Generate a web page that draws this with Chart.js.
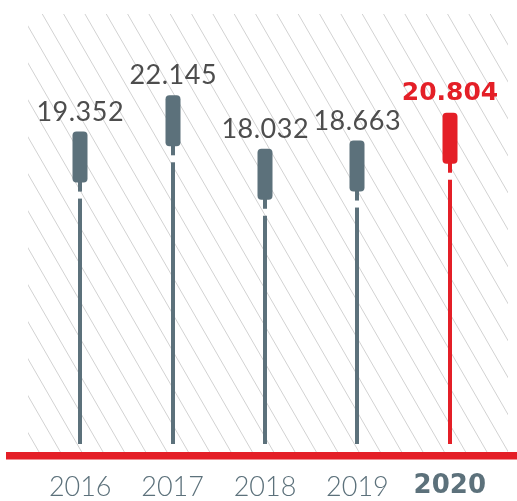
<!DOCTYPE html>
<html>
<head>
<meta charset="utf-8">
<script src="https://cdn.jsdelivr.net/npm/chart.js@4.4.1/dist/chart.umd.min.js"></script>
<style>
  html, body { margin: 0; padding: 0; background: #fff; }
  #wrap { width: 517px; height: 501px; position: relative; }
</style>
</head>
<body>
<div id="wrap"><canvas id="myChart"></canvas></div>
<script>
// data
const years = ['2016', '2017', '2018', '2019', '2020'];
const values = [19.352, 22.145, 18.032, 18.663, 20.804];
const valueLabels = ['19.352', '22.145', '18.032', '18.663', '20.804'];
const highlightIndex = 4;

const GREY = '#5c717b';
const RED = '#e41f27';
const TEXT = '#4d4d4d';
const FONT = 'Lato';
const BOLD_FONT = '"DejaVu Sans"';

// hatch background, red baseline, capsules and value labels
const capsulePlugin = {
    id: 'capsules',
    beforeDatasetsDraw(chart) {
        const ctx = chart.ctx;
        const a = chart.chartArea;
        ctx.save();
        ctx.beginPath();
        ctx.rect(a.left - 6, a.top, a.right - a.left + 18, a.bottom - a.top);
        ctx.clip();
        ctx.strokeStyle = '#d2d2d2';
        ctx.lineWidth = 1;
        const h = a.bottom - a.top;
        const k = 0.577;
        const step = 21.33;
        let x = a.left + 8.3 - step * Math.ceil((h * k + 20) / step);
        ctx.beginPath();
        for (; x < a.right + 30; x += step) {
            ctx.moveTo(x, a.top);
            ctx.lineTo(x + h * k, a.bottom);
        }
        ctx.stroke();
        ctx.restore();
    },
    afterDatasetsDraw(chart) {
        const ctx = chart.ctx;
        const a = chart.chartArea;
        const meta = chart.getDatasetMeta(0);
        ctx.save();
        meta.data.forEach((bar, i) => {
            const hl = i === highlightIndex;
            const color = hl ? RED : GREY;
            const cx = Math.round(bar.x);
            const top = bar.y;
            const capH = 51, capW = 15, stub = 9, gap = 7;
            ctx.fillStyle = color;
            // stub + stem
            ctx.fillRect(cx - 2, top + capH - 4, 4, stub + 4);
            ctx.fillRect(cx - 2, top + capH + stub + gap, 4, a.bottom - 8 - (top + capH + stub + gap));
            // capsule
            ctx.beginPath();
            ctx.roundRect(cx - capW / 2, top, capW, capH, 4);
            ctx.fill();
            // value label
            const sp = hl ? 0 : 0.5;
            ctx.font = hl ? 'bold 25px ' + BOLD_FONT : '400 27px ' + FONT;
            ctx.letterSpacing = sp + 'px';
            ctx.fillStyle = hl ? RED : TEXT;
            ctx.textAlign = 'center';
            ctx.textBaseline = 'alphabetic';
            ctx.fillText(valueLabels[i], cx + sp / 2, top - (hl ? 13 : 11));
        });
        ctx.letterSpacing = '0px';
        // red baseline
        ctx.fillStyle = RED;
        ctx.fillRect(6, a.bottom, chart.width - 6, 7.5);
        ctx.restore();
    }
};

const ctx = document.getElementById('myChart').getContext('2d');
const myChart = new Chart(ctx, {
    type: 'bar',
    data: {
        labels: years,
        datasets: [{
            data: values,
            backgroundColor: 'rgba(0,0,0,0)',
            borderWidth: 0
        }]
    },
    options: {
        responsive: true,
        maintainAspectRatio: false,
        animation: false,
        layout: {
            padding: { left: 34, right: 21, top: 14, bottom: 0 }
        },
        plugins: {
            legend: { display: false },
            tooltip: { enabled: false }
        },
        scales: {
            x: {
                grid: { display: false },
                border: { display: false },
                afterFit: (scale) => { scale.height = 49; },
                ticks: {
                    padding: 11,
                    color: GREY,
                    font: (c) => (c.index === highlightIndex
                        ? { family: BOLD_FONT, size: 26, weight: 'bold' }
                        : { family: FONT, size: 27, weight: '300' })
                }
            },
            y: {
                display: false,
                min: -5.3,
                max: 28.4
            }
        }
    },
    plugins: [capsulePlugin]
});
</script>
</body>
</html>
